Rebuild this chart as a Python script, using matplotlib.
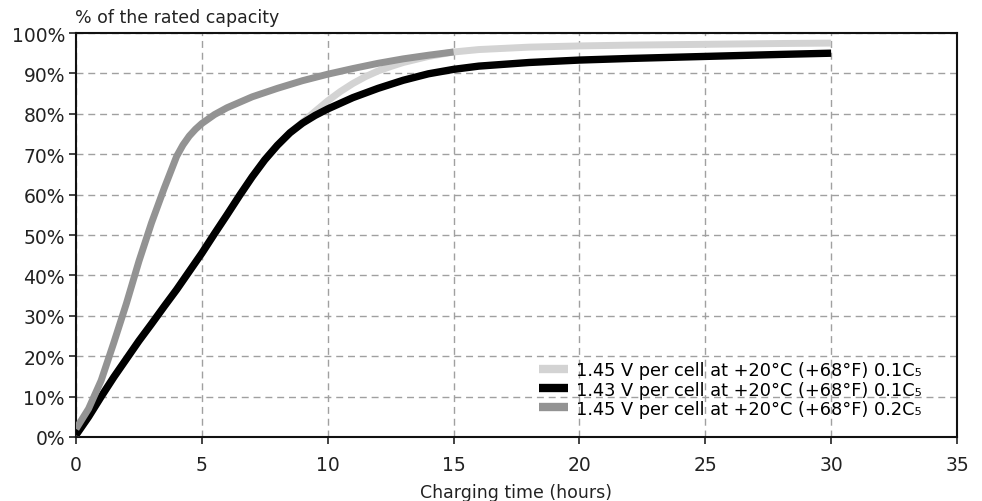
import matplotlib
matplotlib.use("Agg")
import matplotlib.pyplot as plt
from matplotlib.ticker import FuncFormatter

plt.rcParams['font.family'] = ['DejaVu Sans']

# Data
x_02c = [0, 0.5, 1, 1.5, 2, 2.5, 3, 3.5, 4, 4.25, 4.5, 4.75, 5, 5.5, 6, 7, 8, 9, 10, 11, 12, 13, 14, 15]
y_02c = [2, 7, 14, 23.3, 33, 43.5, 53, 61.5, 69.5, 72.3, 74.5, 76.2, 77.6, 79.8, 81.5, 84.2, 86.3, 88.2, 89.8,
         91.2, 92.5, 93.6, 94.5, 95.3]

x_143 = [0, 0.5, 1, 1.5, 2, 2.5, 3, 3.5, 4, 4.5, 5, 5.5, 6, 6.5, 7, 7.5, 8, 8.5, 9, 9.5, 10,
         11, 12, 13, 14, 15, 16, 18, 20, 22, 25, 28, 30]
y_143 = [0.5, 5, 10, 14.8, 19.3, 23.8, 28, 32.3, 36.5, 41, 45.5, 50.3, 55, 59.8, 64.4, 68.6, 72.2, 75.3, 77.7, 79.6, 81.2,
         84, 86.3, 88.3, 89.9, 91.0, 91.8, 92.7, 93.3, 93.7, 94.2, 94.7, 95]

x_145 = [0, 0.5, 1, 1.5, 2, 2.5, 3, 3.5, 4, 4.5, 5, 5.5, 6, 6.5, 7, 7.5, 8, 8.5, 9, 9.5, 10,
         10.5, 11, 11.5, 12, 12.5, 13, 14, 15, 16, 18, 20, 22, 25, 28, 30]
y_145 = [0.5, 5, 10, 14.8, 19.3, 23.8, 28, 32.3, 36.5, 41, 45.5, 50.3, 55, 59.8, 64.4, 68.6, 72.2, 75.3, 77.9, 80.6, 83.2,
         85.5, 87.5, 89.2, 90.6, 91.7, 92.7, 94.2, 95.3, 95.9, 96.5, 96.8, 97, 97.2, 97.4, 97.5]

labels = ["1.45 V per cell at +20°C (+68°F) 0.1C₅",
          "1.43 V per cell at +20°C (+68°F) 0.1C₅",
          "1.45 V per cell at +20°C (+68°F) 0.2C₅"]
colors = ["#d3d3d3", "#000000", "#939393"]

x_ticks = [0, 5, 10, 15, 20, 25, 30, 35]
y_ticks = [0, 10, 20, 30, 40, 50, 60, 70, 80, 90, 100]

fig = plt.figure(figsize=(9.82, 5.02), dpi=100)
ax = fig.add_axes([76/982, 64/502, 881/982, 404/502])

for xs, ys, c, lab, lw in [(x_145, y_145, colors[0], labels[0], 5.0),
                           (x_143, y_143, colors[1], labels[1], 5.3),
                           (x_02c, y_02c, colors[2], labels[2], 5.0)]:
    ax.plot(xs, ys, color=c, lw=lw, label=lab, solid_capstyle='butt', solid_joinstyle='round', zorder=3)

ax.set_xlim(0, 35)
ax.set_ylim(0, 100)
ax.set_xticks(x_ticks)
ax.set_yticks(y_ticks)
ax.yaxis.set_major_formatter(FuncFormatter(lambda v, p: f"{int(v)}%"))
ax.grid(True, color="#a0a0a0", linestyle=(0, (5, 3.5)), linewidth=1.0, zorder=1)
for s in ax.spines.values():
    s.set_linewidth(1.5)
    s.set_color("#111111")
ax.tick_params(axis='both', direction='out', length=5, width=1.2, labelsize=13.5, colors="#222222", pad=3)
ax.tick_params(axis='x', pad=8)

fig.text(516/982, 1 - 493/502, "Charging time (hours)", fontsize=12.5, color="#222222", va='center', ha='center')
fig.text(75/982, 1 - 18/502, "% of the rated capacity", fontsize=12.5, color="#222222", va='center', ha='left')

leg = ax.legend(loc='lower right', bbox_to_anchor=(0.96, 0.048), frameon=False, fontsize=12.8,
                handlelength=1.65, handletextpad=0.45, labelspacing=0.06, borderaxespad=0.0, borderpad=0.0)
for h in leg.get_lines():
    h.set_linewidth(6)

fig.savefig("out.png", dpi=100)
